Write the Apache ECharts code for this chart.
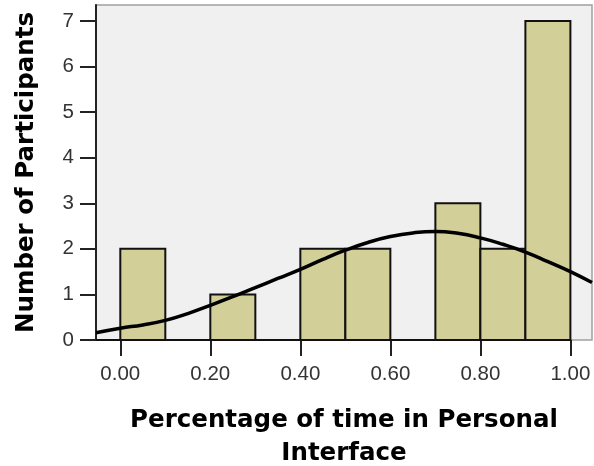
<!DOCTYPE html>
<html>
<head>
<meta charset="utf-8">
<script src="https://cdn.jsdelivr.net/npm/echarts@6/dist/echarts.min.js"></script>
<style>
html,body{margin:0;padding:0;background:#fff;}
#chart{width:594px;height:466px;}
</style>
</head>
<body>
<div id="chart"></div>
<script>
// Histogram bins (edges) and counts
var binEdges = [0.0, 0.1, 0.2, 0.3, 0.4, 0.5, 0.6, 0.7, 0.8, 0.9, 1.0];
var counts = [2, 0, 1, 0, 2, 2, 0, 3, 2, 7];
// Normal curve
var curveX = [-0.054, 0.0, 0.05, 0.1, 0.15, 0.2, 0.25, 0.3, 0.35, 0.4, 0.45, 0.5, 0.55, 0.6, 0.65, 0.7, 0.75, 0.8, 0.85, 0.9, 0.95, 1.0, 1.048];
var curveY = [0.16, 0.26, 0.33, 0.43, 0.58, 0.76, 0.95, 1.15, 1.35, 1.55, 1.77, 1.97, 2.14, 2.27, 2.35, 2.38, 2.34, 2.24, 2.10, 1.93, 1.72, 1.50, 1.26];
var xTicks = [0, 0.2, 0.4, 0.6, 0.8, 1.0];
var yTicks = [0, 1, 2, 3, 4, 5, 6, 7];

var barData = counts.map(function (c, i) { return [binEdges[i], binEdges[i + 1], c]; });
var curveData = curveX.map(function (x, i) { return [x, curveY[i]]; });

var chart = echarts.init(document.getElementById('chart'));
chart.setOption({
  animation: false,
  grid: {
    left: 96, right: 2, top: 5, bottom: 126,
    outerBoundsMode: 'none', containLabel: false,
    show: true, backgroundColor: '#f0f0f0', borderColor: '#a0a0a0', borderWidth: 1.5
  },
  xAxis: {
    type: 'value', min: -0.054, max: 1.048,
    name: 'Percentage of time in Personal\nInterface',
    nameLocation: 'middle', nameGap: 64,
    nameTextStyle: { fontFamily: 'DejaVu Sans', fontWeight: 'bold', fontSize: 24.5, color: '#000', lineHeight: 33 },
    axisLine: { show: false, onZero: false },
    axisTick: { show: true, customValues: xTicks, length: 16, lineStyle: { color: '#222', width: 2 } },
    axisLabel: {
      customValues: xTicks, margin: 24,
      fontFamily: 'Liberation Sans', fontSize: 20.5, color: '#333',
      formatter: function (v) { return v.toFixed(2); }
    },
    splitLine: { show: false }
  },
  yAxis: {
    type: 'value', min: 0, max: 7.35,
    name: 'Number of Participants',
    nameLocation: 'middle', nameGap: 57,
    nameTextStyle: { fontFamily: 'DejaVu Sans', fontWeight: 'bold', fontSize: 24.5, color: '#000' },
    axisLine: { show: true, onZero: false, lineStyle: { color: '#222', width: 2 } },
    axisTick: { show: true, customValues: yTicks, length: 16, lineStyle: { color: '#222', width: 2 } },
    axisLabel: {
      customValues: yTicks, margin: 22,
      fontFamily: 'Liberation Sans', fontSize: 20.5, color: '#333'
    },
    splitLine: { show: false }
  },
  series: [
    {
      type: 'custom',
      data: barData,
      z: 2,
      renderItem: function (params, api) {
        var p0 = api.coord([api.value(0), api.value(2)]);
        var p1 = api.coord([api.value(1), 0]);
        return {
          type: 'rect',
          shape: { x: p0[0], y: p0[1], width: p1[0] - p0[0], height: p1[1] - p0[1] },
          style: { fill: '#d3cf99', stroke: '#111', lineWidth: 2 }
        };
      },
      markLine: {
        symbol: 'none', silent: true, label: { show: false },
        lineStyle: { color: '#111', width: 2, type: 'solid' },
        data: [[{ coord: [-0.054, 0] }, { coord: [1.0, 0] }]]
      }
    },
    {
      type: 'line',
      data: curveData,
      smooth: true,
      showSymbol: false,
      z: 5,
      lineStyle: { color: '#000', width: 3.5 }
    }
  ]
});
</script>
</body>
</html>
